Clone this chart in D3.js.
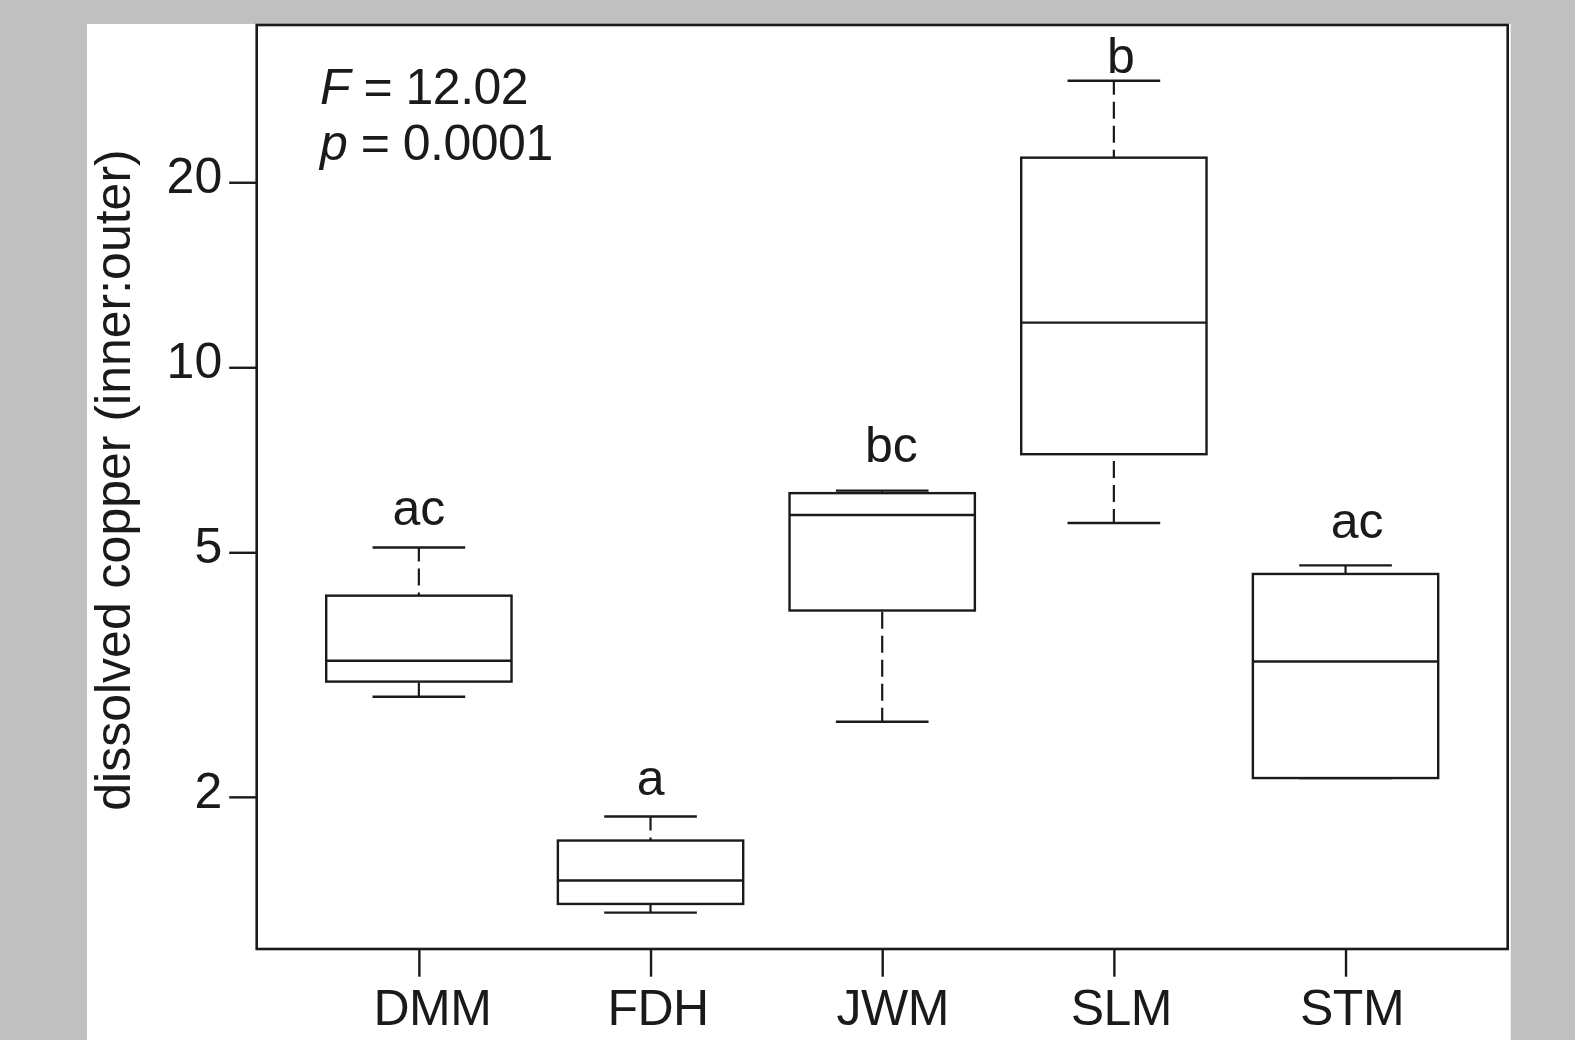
<!DOCTYPE html>
<html>
<head>
<meta charset="utf-8">
<script src="https://cdnjs.cloudflare.com/ajax/libs/d3/7.8.5/d3.min.js"></script>
<style>
  html, body { margin: 0; padding: 0; background: #c0c0c0; }
  svg { display: block; }
  text { font-family: "Liberation Sans", Arial, sans-serif; fill: #1a1a1a; }
</style>
</head>
<body>
<div id="chart"></div>
<script>
// dissolved copper boxplot (log y)
var groups = ['DMM', 'FDH', 'JWM', 'SLM', 'STM']
var lowerWhisker = [2.91, 1.296, 2.65, 5.58, 2.146]
var lowerHinge = [3.08, 1.339, 4.02, 7.22, 2.146]
var medians = [3.33, 1.462, 5.75, 11.82, 3.32]
var upperHinge = [4.25, 1.698, 6.24, 21.93, 4.61]
var upperWhisker = [5.09, 1.858, 6.30, 29.26, 4.76]

// significance letters, placed like text(x, y, labels) in data units
var letters = ['ac', 'a', 'bc', 'b', 'ac']
var letterX = [1, 2, 3.04, 4.03, 5.05]
var letterY = [5.54, 2.015, 7.00, 30.15, 5.27]

var yTicks = [2, 5, 10, 20]
var yLimits = [1.131, 36.05]
var statLines = ['F = 12.02', 'p = 0.0001']

;(function() {
  var
    WIDTH = 1575,
    HEIGHT = 1040,
    LEFT = 256.7,
    RIGHT = 1507.7,
    TOP = 25,
    BOTTOM = 949,
    FONT = 50,
    INK = '#1a1a1a',
    BOX_W = 0.4,
    CAP_W = 0.2,
    // group names sit a little right of their ticks in the original
    LABEL_NUDGE = [13, 7, 10, 7, 6]

  var svg = d3.select('#chart').append('svg')
    .attr('width', WIDTH)
    .attr('height', HEIGHT)

  // gray page + white figure panel
  svg.append('rect').attr('width', WIDTH).attr('height', HEIGHT).attr('fill', '#c0c0c0')
  svg.append('rect')
    .attr('x', 87).attr('y', 24)
    .attr('width', 1510.7 - 87).attr('height', HEIGHT - 24)
    .attr('fill', '#fff')

  var x = d3.scaleLinear().domain([0.3, groups.length + 0.7]).range([LEFT, RIGHT])
  var y = d3.scaleLog().domain(yLimits).range([BOTTOM, TOP])

  var data = groups.map(function(g, i) {
    return {
      name: g, pos: i + 1,
      lo: lowerWhisker[i], q1: lowerHinge[i], med: medians[i],
      q3: upperHinge[i], hi: upperWhisker[i]
    }
  })

  var boxes = svg.append('g')
    .selectAll('.box')
    .data(data)
    .enter()
    .append('g')
    .attr('class', 'box')

  // whiskers, dashed, drawn from the staple towards the hinge
  boxes.append('line')
    .attr('x1', d => x(d.pos)).attr('x2', d => x(d.pos))
    .attr('y1', d => y(d.hi)).attr('y2', d => y(d.q3))
  boxes.append('line')
    .attr('x1', d => x(d.pos)).attr('x2', d => x(d.pos))
    .attr('y1', d => y(d.lo)).attr('y2', d => y(d.q1))
  boxes.selectAll('line')
    .attr('stroke', INK)
    .attr('stroke-width', 2.2)
    .attr('stroke-dasharray', '17,7')
    .attr('stroke-dashoffset', 3)

  // staples
  boxes.append('line').attr('class', 'cap')
    .attr('y1', d => y(d.hi)).attr('y2', d => y(d.hi))
  boxes.append('line').attr('class', 'cap')
    .attr('y1', d => y(d.lo)).attr('y2', d => y(d.lo))
  boxes.selectAll('.cap')
    .attr('x1', d => x(d.pos - CAP_W)).attr('x2', d => x(d.pos + CAP_W))
    .attr('stroke', INK)
    .attr('stroke-width', 2.4)
    .attr('stroke-dasharray', null)

  boxes.append('rect')
    .attr('x', d => x(d.pos - BOX_W))
    .attr('width', d => x(d.pos + BOX_W) - x(d.pos - BOX_W))
    .attr('y', d => y(d.q3))
    .attr('height', d => y(d.q1) - y(d.q3))
    .attr('fill', '#fff')
    .attr('stroke', INK)
    .attr('stroke-width', 2.4)

  boxes.append('line')
    .attr('x1', d => x(d.pos - BOX_W)).attr('x2', d => x(d.pos + BOX_W))
    .attr('y1', d => y(d.med)).attr('y2', d => y(d.med))
    .attr('stroke', INK)
    .attr('stroke-width', 2.4)

  // letters
  svg.append('g')
    .selectAll('text')
    .data(letters)
    .enter()
    .append('text')
    .text(d => d)
    .attr('x', (d, i) => x(letterX[i]))
    .attr('y', (d, i) => y(letterY[i]))
    .attr('text-anchor', 'middle')
    .attr('font-size', FONT)

  // frame
  svg.append('rect')
    .attr('x', LEFT).attr('y', TOP)
    .attr('width', RIGHT - LEFT).attr('height', BOTTOM - TOP)
    .attr('fill', 'none')
    .attr('stroke', INK)
    .attr('stroke-width', 2.6)

  // y axis (left, log)
  var yAxis = svg.append('g')
    .attr('transform', 'translate(' + LEFT + ',0)')
    .call(d3.axisLeft(y).tickValues(yTicks).tickFormat(d3.format('d')).tickSize(27.5).tickPadding(7))
  yAxis.select('.domain').remove()
  yAxis.selectAll('line').attr('stroke', INK).attr('stroke-width', 2.4)
  yAxis.selectAll('text')
    .attr('font-size', FONT)
    .attr('font-family', '"Liberation Sans", Arial, sans-serif')
    .attr('fill', INK)
    .attr('dy', 10.5)

  // x axis
  var xAxis = svg.append('g')
    .attr('transform', 'translate(0,' + BOTTOM + ')')
    .call(d3.axisBottom(x).tickValues(data.map(d => d.pos)).tickFormat((d, i) => groups[i]).tickSize(27.7).tickPadding(0))
  xAxis.select('.domain').remove()
  xAxis.selectAll('line').attr('stroke', INK).attr('stroke-width', 2.4)
  xAxis.selectAll('text')
    .attr('font-size', FONT)
    .attr('font-family', '"Liberation Sans", Arial, sans-serif')
    .attr('fill', INK)
    .attr('letter-spacing', -0.5)
    .attr('x', (d, i) => LABEL_NUDGE[i])
    .attr('y', 1025 - BOTTOM)
    .attr('dy', 0)

  // y title
  svg.append('text')
    .text('dissolved copper (inner:outer)')
    .attr('font-size', FONT)
    .attr('text-anchor', 'middle')
    .attr('transform', 'translate(130,480) rotate(-90)')

  // F / p statistics
  var stats = svg.append('g')
  statLines.forEach(function(s, i) {
    var parts = s.split(' = ')
    var t = stats.append('text')
      .attr('x', 320)
      .attr('y', 104 + i * 56)
      .attr('font-size', FONT)
      .attr('letter-spacing', -0.5)
    t.append('tspan').attr('font-style', 'italic').text(parts[0])
    t.append('tspan').text(' = ' + parts[1])
  })
})()
</script>
</body>
</html>
